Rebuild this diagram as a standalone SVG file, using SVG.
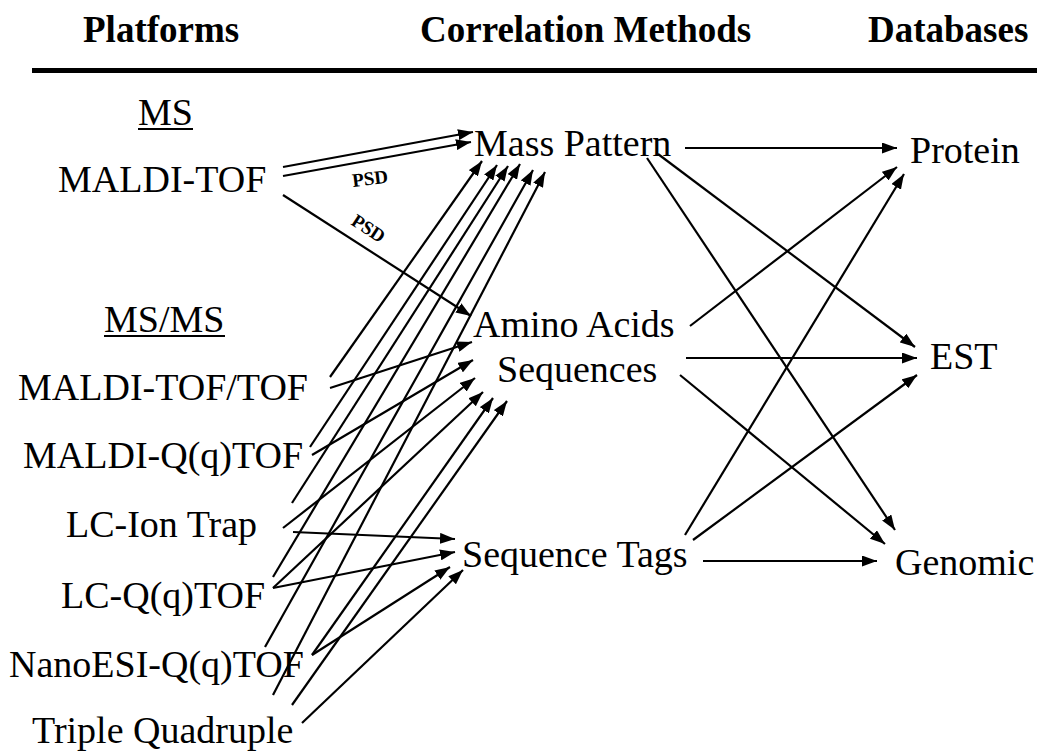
<svg xmlns="http://www.w3.org/2000/svg" width="1037" height="755" viewBox="0 0 1037 755">
<defs>
<marker id="ah" markerUnits="userSpaceOnUse" markerWidth="15" markerHeight="11" refX="15" refY="5.5" orient="auto">
<path d="M0,0 L15,5.5 L0,11 z" fill="#000"/>
</marker>
<style>
.h{font-family:"Liberation Serif","Times New Roman",serif;font-weight:bold;font-size:37px;fill:#000}
.t{font-family:"Liberation Serif","Times New Roman",serif;font-size:38px;fill:#000}
.p{font-family:"Liberation Serif","Times New Roman",serif;font-weight:bold;font-size:19px;fill:#000}
.ul{stroke:#000;stroke-width:2}
.c line{stroke:#000;stroke-width:2.2;marker-end:url(#ah)}
</style>
</defs>
<rect width="1037" height="755" fill="#fff"/>
<g id="header">
<text class="h" x="83" y="42">Platforms</text>
<text class="h" x="420" y="42">Correlation Methods</text>
<text class="h" x="868" y="42">Databases</text>
<line x1="32" y1="70.5" x2="1037" y2="70.5" stroke="#000" stroke-width="5"/>
</g>
<g id="ms-label"><text class="t" x="138" y="125">MS</text><line class="ul" x1="138" y1="129" x2="193" y2="129"/></g>
<g id="msms-label"><text class="t" x="104" y="332">MS/MS</text><line class="ul" x1="104" y1="336" x2="225" y2="336"/></g>
<g id="maldi-tof"><text class="t" x="58" y="192">MALDI-TOF</text></g>
<g id="maldi-toftof"><text class="t" x="18" y="400">MALDI-TOF/TOF</text></g>
<g id="maldi-qqtof"><text class="t" x="23" y="468">MALDI-Q(q)TOF</text></g>
<g id="lc-iontrap"><text class="t" x="66" y="537">LC-Ion Trap</text></g>
<g id="lc-qqtof"><text class="t" x="61" y="608">LC-Q(q)TOF</text></g>
<g id="nanoesi"><text class="t" x="9" y="677">NanoESI-Q(q)TOF</text></g>
<g id="triple"><text class="t" x="32" y="743">Triple Quadruple</text></g>
<g id="mass-pattern"><text class="t" x="474" y="156">Mass Pattern</text></g>
<g id="amino-acids"><text class="t" x="473" y="337">Amino Acids</text><text class="t" x="497" y="382">Sequences</text></g>
<g id="sequence-tags"><text class="t" x="462" y="567">Sequence Tags</text></g>
<g id="protein"><text class="t" x="910" y="163">Protein</text></g>
<g id="est"><text class="t" x="930" y="369">EST</text></g>
<g id="genomic"><text class="t" x="895" y="575">Genomic</text></g>
<g id="connectors" class="c">
<line x1="283" y1="167" x2="473" y2="132"/>
<line x1="283" y1="176" x2="471" y2="142"/>
<line x1="283" y1="195" x2="471" y2="316"/>
<line x1="330" y1="377" x2="482" y2="161"/>
<line x1="330" y1="388" x2="472" y2="342"/>
<line x1="310" y1="447" x2="497" y2="165"/>
<line x1="312" y1="455" x2="473" y2="360"/>
<line x1="292" y1="503" x2="508" y2="166"/>
<line x1="283" y1="528" x2="475" y2="378"/>
<line x1="293" y1="532" x2="455" y2="539"/>
<line x1="273" y1="577" x2="520" y2="164"/>
<line x1="273" y1="588" x2="483" y2="392"/>
<line x1="273" y1="588" x2="455" y2="552"/>
<line x1="265" y1="647" x2="533" y2="170"/>
<line x1="312" y1="655" x2="450" y2="567"/>
<line x1="312" y1="655" x2="493" y2="398"/>
<line x1="273" y1="695" x2="545" y2="172"/>
<line x1="292" y1="705" x2="507" y2="401"/>
<line x1="302" y1="723" x2="463" y2="570"/>
<line x1="685" y1="148" x2="897" y2="148"/>
<line x1="658" y1="154" x2="915" y2="347"/>
<line x1="647" y1="158" x2="895" y2="530"/>
<line x1="690" y1="326" x2="897" y2="167"/>
<line x1="686" y1="358" x2="917" y2="358"/>
<line x1="680" y1="375" x2="885" y2="544"/>
<line x1="685" y1="535" x2="904" y2="174"/>
<line x1="693" y1="540" x2="917" y2="375"/>
<line x1="703" y1="561" x2="877" y2="561"/>
</g>
<g id="psd-labels">
<text class="p" x="353" y="187" transform="rotate(-7 353 187)">PSD</text>
<text class="p" x="350" y="224" transform="rotate(33 350 224)">PSD</text>
</g>
</svg>
